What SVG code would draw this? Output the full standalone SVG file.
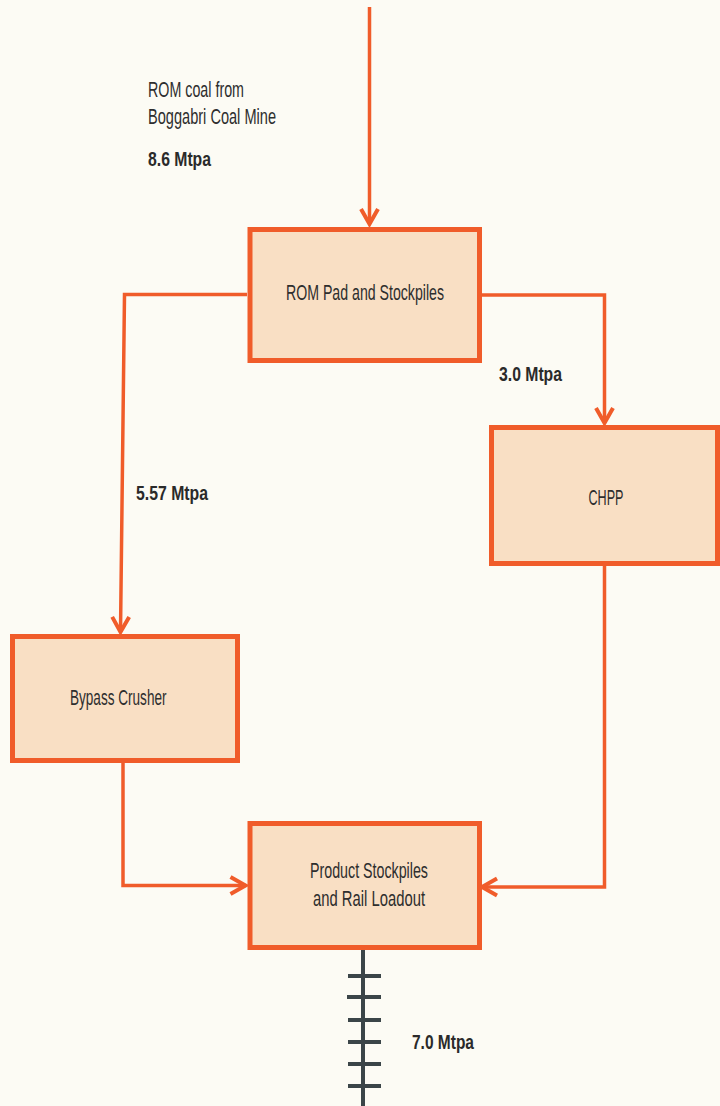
<svg xmlns="http://www.w3.org/2000/svg" width="720" height="1106" viewBox="0 0 720 1106">
  <style>
    .box { fill: #F9DFC4; stroke: #F05C2A; stroke-width: 5; }
    .flow { fill: none; stroke: #F05C2A; stroke-width: 3.5; }
    .lbl { font-family: "Liberation Sans Narrow", "Liberation Sans", sans-serif; font-size: 21.5px; fill: #2E2E2E; }
    .qty { font-family: "Liberation Sans Narrow", "Liberation Sans", sans-serif; font-size: 20px; font-weight: bold; fill: #2A2A2A; }
    .rail { stroke: #3B4548; stroke-width: 4; fill: none; }
  </style>
  <defs>
    <marker id="arrow" markerUnits="userSpaceOnUse" markerWidth="24" markerHeight="24" viewBox="0 0 24 24" refX="20" refY="12" orient="auto">
      <path d="M5,3.5 L20,12 L5,20.5" fill="none" stroke="#F05C2A" stroke-width="4"/>
    </marker>
  </defs>

  <rect width="720" height="1106" fill="#FCFBF4"/>

  <!-- connectors -->
  <g id="connectors">
    <line class="flow" x1="369.5" y1="7" x2="369.5" y2="224" marker-end="url(#arrow)"/>
    <polyline class="flow" points="247,294.5 124.5,294.5 120.5,632" marker-end="url(#arrow)"/>
    <polyline class="flow" points="482,295 604.5,295 604.5,423" marker-end="url(#arrow)"/>
    <polyline class="flow" points="123,763 123,885.5 245.5,885.5" marker-end="url(#arrow)"/>
    <polyline class="flow" points="604.5,566 604.5,887 482,887" marker-end="url(#arrow)"/>
  </g>

  <!-- source annotation -->
  <g id="source">
    <text class="lbl" x="148" y="97" textLength="96" lengthAdjust="spacingAndGlyphs">ROM coal from</text>
    <text class="lbl" x="148" y="124" textLength="128" lengthAdjust="spacingAndGlyphs">Boggabri Coal Mine</text>
    <text class="qty" x="148" y="166" textLength="63" lengthAdjust="spacingAndGlyphs">8.6 Mtpa</text>
  </g>

  <!-- flow quantities -->
  <g id="quantities">
    <text class="qty" x="499" y="381" textLength="63" lengthAdjust="spacingAndGlyphs">3.0 Mtpa</text>
    <text class="qty" x="136" y="500" textLength="72" lengthAdjust="spacingAndGlyphs">5.57 Mtpa</text>
    <text class="qty" x="412" y="1049" textLength="62" lengthAdjust="spacingAndGlyphs">7.0 Mtpa</text>
  </g>

  <g id="rom-pad">
    <rect class="box" x="250" y="229.5" width="229.5" height="131"/>
    <text class="lbl" x="286" y="299.5" textLength="158" lengthAdjust="spacingAndGlyphs">ROM Pad and Stockpiles</text>
  </g>

  <g id="chpp">
    <rect class="box" x="491.5" y="427.5" width="226" height="136"/>
    <text class="lbl" x="588.5" y="505" textLength="35" lengthAdjust="spacingAndGlyphs">CHPP</text>
  </g>

  <g id="bypass-crusher">
    <rect class="box" x="12.5" y="636.5" width="225" height="124"/>
    <text class="lbl" x="70" y="705" textLength="96.5" lengthAdjust="spacingAndGlyphs">Bypass Crusher</text>
  </g>

  <g id="product-stockpiles">
    <rect class="box" x="250" y="823.5" width="229.5" height="124"/>
    <text class="lbl" x="310" y="878" textLength="118" lengthAdjust="spacingAndGlyphs">Product Stockpiles</text>
    <text class="lbl" x="313" y="906" textLength="112" lengthAdjust="spacingAndGlyphs">and Rail Loadout</text>
  </g>

  <!-- rail line out of the loadout -->
  <g id="rail">
    <line class="rail" x1="363" y1="950" x2="363" y2="1106"/>
    <line class="rail" x1="348" y1="976" x2="381" y2="976"/>
    <line class="rail" x1="347" y1="997" x2="381" y2="997"/>
    <line class="rail" x1="348" y1="1020" x2="381" y2="1020"/>
    <line class="rail" x1="348" y1="1042" x2="381" y2="1042"/>
    <line class="rail" x1="348" y1="1064" x2="381" y2="1064"/>
    <line class="rail" x1="348" y1="1086" x2="381" y2="1086"/>
  </g>
</svg>
